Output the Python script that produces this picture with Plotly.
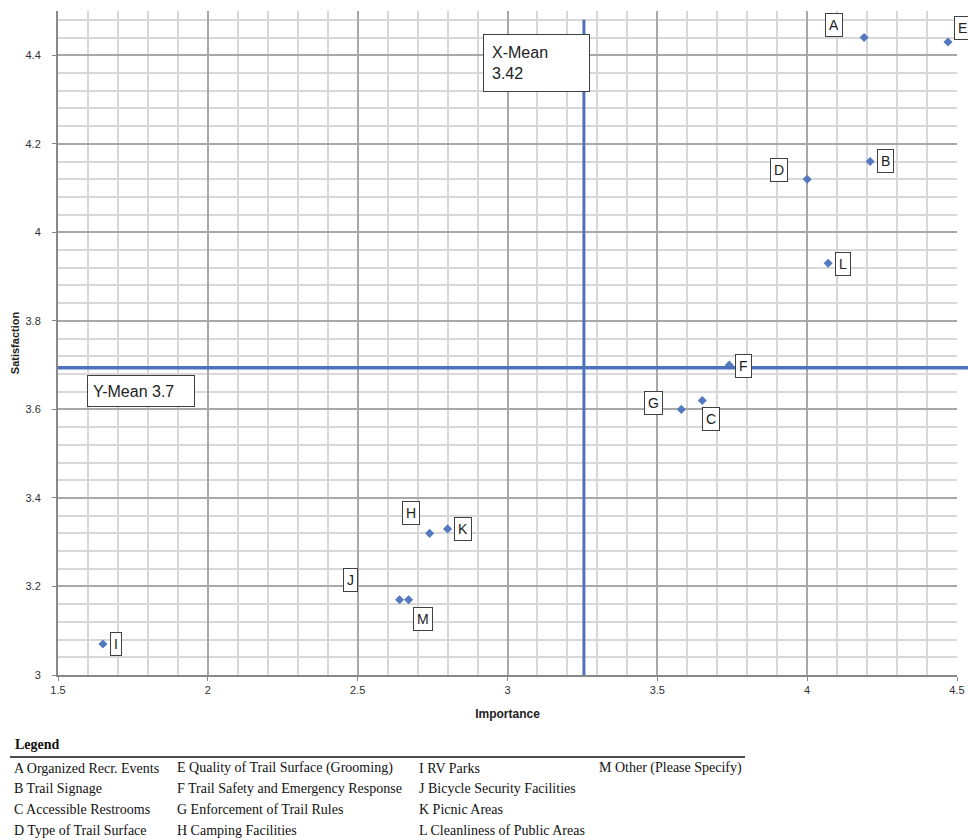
import plotly.graph_objects as go

# ---- data ----
codes = ["A", "B", "C", "D", "E", "F", "G", "H", "I", "J", "K", "L", "M"]
descriptions = [
    "Organized Recr. Events",
    "Trail Signage",
    "Accessible Restrooms",
    "Type of Trail Surface",
    "Quality of Trail Surface (Grooming)",
    "Trail Safety and Emergency Response",
    "Enforcement of Trail Rules",
    "Camping Facilities",
    "RV Parks",
    "Bicycle Security Facilities",
    "Picnic Areas",
    "Cleanliness of Public Areas",
    "Other (Please Specify)",
]
importance = [4.19, 4.21, 3.65, 4.00, 4.47, 3.74, 3.58, 2.74, 1.65, 2.64, 2.80, 4.07, 2.67]
satisfaction = [4.44, 4.16, 3.62, 4.12, 4.43, 3.70, 3.60, 3.32, 3.07, 3.17, 3.33, 3.93, 3.17]

x_mean_pos = 3.255     # where the vertical mean line is drawn
x_mean_label = "3.42"
y_mean_pos = 3.694
y_mean_label = "3.7"

x_ticks = [1.5, 2, 2.5, 3, 3.5, 4, 4.5]
y_ticks = [3, 3.2, 3.4, 3.6, 3.8, 4, 4.2, 4.4]
y_tick_text = ["3", "3.2", "3.4", "3.6", "3.8", "4", "4.2", "4.4"]

# ---- styling (label offsets in pixels) ----
label_offsets = {
    "A": (-30, -13), "B": (15, -1), "C": (9, 18), "D": (-28, -9),
    "E": (14, -14), "F": (14, 1), "G": (-28, -6), "H": (-19, -20),
    "I": (13, 0), "J": (-49, -20), "K": (15, 0), "L": (15, 1), "M": (14, 19),
}

W, H = 968, 840
L, T = 58, 11
R = W - 957
B = H - 675
PW, PH = W - L - R, H - T - B


def xp(px):
    return (px - L) / PW


def yp(py):
    return (H - B - py) / PH


BLUE = "#4f72bd"
fig = go.Figure()
fig.add_trace(go.Scatter(
    x=importance, y=satisfaction, mode="markers",
    marker=dict(symbol="diamond", size=7, color="#5579c0"),
    hoverinfo="text", text=codes, showlegend=False, cliponaxis=False,
))

annotations = []
for c, xv, yv in zip(codes, importance, satisfaction):
    ox, oy = label_offsets[c]
    annotations.append(dict(
        x=xv, y=yv, xref="x", yref="y", text=c, showarrow=True,
        ax=ox, ay=oy, arrowcolor="rgba(0,0,0,0)", arrowwidth=0.1,
        font=dict(family="Liberation Sans", size=14, color="#222"),
        bgcolor="white", bordercolor="#404040", borderwidth=1, borderpad=3,
    ))

# mean labels
annotations.append(dict(
    x=xp(483), y=yp(34), xref="paper", yref="paper", xanchor="left", yanchor="top",
    text="X-Mean<br>" + x_mean_label, showarrow=False, align="left",
    width=89, height=40, borderpad=8, borderwidth=1, bordercolor="#404040",
    bgcolor="white", font=dict(family="Liberation Sans", size=16, color="#222"),
))
annotations.append(dict(
    x=xp(87), y=yp(375), xref="paper", yref="paper", xanchor="left", yanchor="top",
    text="Y-Mean " + y_mean_label, showarrow=False, align="left",
    width=96, height=20, borderpad=5, borderwidth=1, bordercolor="#404040",
    bgcolor="white", font=dict(family="Liberation Sans", size=16, color="#222"),
))

# legend block
serif = "Liberation Serif"
annotations.append(dict(
    x=xp(13), y=yp(744), xref="paper", yref="paper", xanchor="left", yanchor="middle",
    text="<b>Legend</b>", showarrow=False, font=dict(family=serif, size=14, color="#111"),
))
col_x = [12, 175, 417, 597]
row_y = [768, 788, 809, 830]
for i, (c, d) in enumerate(zip(codes, descriptions)):
    col, row = divmod(i, 4)
    annotations.append(dict(
        x=xp(col_x[col]), y=yp(row_y[row]), xref="paper", yref="paper",
        xanchor="left", yanchor="middle", text=f"{c} {d}", showarrow=False,
        font=dict(family=serif, size=14, color="#111"),
    ))

shapes = [
    dict(type="line", xref="x", yref="y", x0=x_mean_pos, x1=x_mean_pos, y0=3, y1=4.48,
         line=dict(color=BLUE, width=3)),
    dict(type="line", xref="paper", yref="y", x0=0, x1=xp(968), y0=y_mean_pos, y1=y_mean_pos,
         line=dict(color=BLUE, width=3.5)),
    dict(type="line", xref="paper", yref="paper", x0=xp(10), x1=xp(745), y0=yp(757), y1=yp(757),
         line=dict(color="#111", width=1.5)),
]

tickfont = dict(family="Liberation Sans", size=11, color="#333")
fig.update_layout(
    width=W, height=H, margin=dict(l=L, r=R, t=T, b=B, autoexpand=False),
    paper_bgcolor="white", plot_bgcolor="white",
    annotations=annotations, shapes=shapes,
    xaxis=dict(
        range=[1.5, 4.5], tickvals=x_ticks, ticktext=[str(v) for v in x_ticks],
        showgrid=True, gridcolor="#a8a8a8", gridwidth=1.5, automargin=False,
        minor=dict(dtick=0.1, showgrid=True, gridcolor="#d8d8d8", gridwidth=1.5),
        showline=True, linecolor="#888", linewidth=2, ticks="outside", ticklen=4,
        tickcolor="#888", tickfont=tickfont, zeroline=False,
        title=dict(text="<b>Importance</b>", font=dict(family="Liberation Sans", size=12, color="#222"), standoff=14),
    ),
    yaxis=dict(
        range=[3, 4.5], tickvals=y_ticks, ticktext=y_tick_text,
        showgrid=True, gridcolor="#a8a8a8", gridwidth=1.5, automargin=False,
        minor=dict(dtick=0.04, showgrid=True, gridcolor="#d8d8d8", gridwidth=1.5),
        showline=True, linecolor="#888", linewidth=2, ticks="outside", ticklen=4,
        tickcolor="#888", tickfont=tickfont, zeroline=False, ticklabelstandoff=9,
        title=dict(text="<b>Satisfaction</b>", font=dict(family="Liberation Sans", size=11, color="#222"), standoff=4),
    ),
)

fig.write_html(
    "out.html",
    config={"displayModeBar": False},
    post_script="document.body.style.margin='0';document.body.style.overflow='hidden';"
                "document.documentElement.style.overflow='hidden';",
)
